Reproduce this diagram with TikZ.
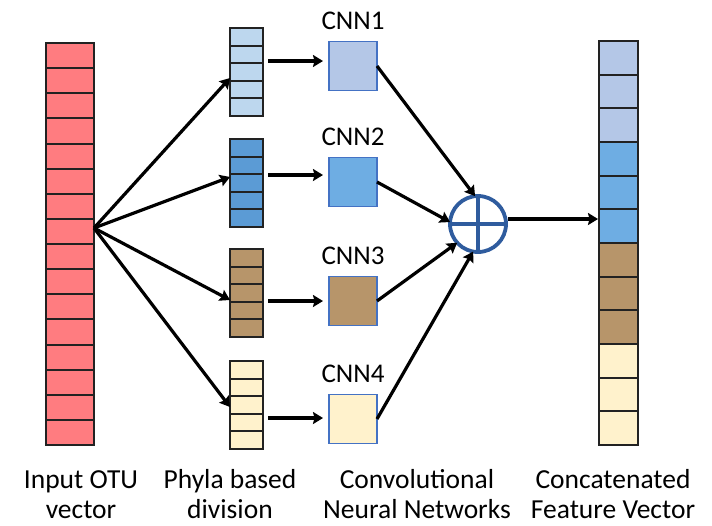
\documentclass[tikz,border=0pt]{standalone}
\usepackage{fontspec}
\setmainfont{Carlito}
\usetikzlibrary{arrows.meta,calc}

\definecolor{otured}{HTML}{FF7C80}
\definecolor{phyA}{HTML}{BDD7EE}
\definecolor{phyB}{HTML}{5B9BD5}
\definecolor{cnnA}{HTML}{B4C7E7}
\definecolor{cnnB}{HTML}{6EADE3}
\definecolor{brownish}{HTML}{B7956A}
\definecolor{cream}{HTML}{FFF2CC}
\definecolor{boxblue}{HTML}{4472C4}
\definecolor{sumblue}{HTML}{2F5C9E}
\definecolor{cellline}{HTML}{222222}

\tikzset{
  cellcol/.style={draw=cellline, line width=2pt, minimum width=#1, inner sep=0pt, outer sep=0pt},
  cnnbox/.style={draw=boxblue, line width=1.8pt, minimum width=48pt, minimum height=49pt, inner sep=0pt, outer sep=0pt},
  arr/.style={line width=3.2pt, -{Stealth[length=10pt,width=12pt,inset=1.5pt]}},
  caption/.style={font=\fontsize{27.5}{30}\selectfont, align=center, inner sep=0pt, anchor=base},
  cnnlabel/.style={font=\fontsize{27}{30}\selectfont, inner sep=0pt, anchor=base},
}

% draws n-1 horizontal dividers inside a column node
\newcommand{\dividecol}[2]{%
  \foreach \k in {1,...,\numexpr#2-1\relax}{
    \draw[cellline, line width=2pt]
      ($(#1.north west)!\k/#2!(#1.south west)$) -- ($(#1.north east)!\k/#2!(#1.south east)$);
  }%
}

\begin{document}
\begin{tikzpicture}[x=1pt,y=-1pt]
  \useasboundingbox (0,0) rectangle (712,525);

  % input OTU vector
  \node[cellcol=48pt, minimum height=402pt, fill=otured] (inp) at (70,244) {};
  \dividecol{inp}{16}

  % phyla based division
  \node[cellcol=33pt, minimum height=88pt, fill=phyA] (p1) at (246.5,72) {};
  \node[cellcol=33pt, minimum height=88pt, fill=phyB] (p2) at (246.5,183) {};
  \node[cellcol=33pt, minimum height=88pt, fill=brownish] (p3) at (246.5,293) {};
  \node[cellcol=33pt, minimum height=88pt, fill=cream] (p4) at (246.5,405) {};
  \foreach \n in {p1,p2,p3,p4}{\dividecol{\n}{5}}

  % convolutional networks
  \node[cnnbox, fill=cnnA] (c1) at (353,66) {};
  \node[cnnbox, fill=cnnB] (c2) at (353,182) {};
  \node[cnnbox, fill=brownish] (c3) at (353,301) {};
  \node[cnnbox, fill=cream] (c4) at (353,419) {};
  \node[cnnlabel] (l1) at (353,29) {CNN1};
  \node[cnnlabel] (l2) at (353,145) {CNN2};
  \node[cnnlabel] (l3) at (353,264) {CNN3};
  \node[cnnlabel] (l4) at (353,382) {CNN4};

  % concatenation operator
  \node[circle, draw=sumblue, line width=3.8pt, minimum size=56pt, inner sep=0pt, outer sep=0pt] (sum) at (478,224) {};
  \draw[sumblue, line width=3.8pt] (sum.north) -- (sum.south) (sum.west) -- (sum.east);

  % concatenated feature vector
  \node[cellcol=39pt, minimum height=404pt, fill=cream] (cv) at (618.5,243) {};
  \fill[cnnA] (cv.north west) rectangle ($(cv.north east)!0.25!(cv.south east)$);
  \fill[cnnB] ($(cv.north west)!0.25!(cv.south west)$) rectangle ($(cv.north east)!0.5!(cv.south east)$);
  \fill[brownish] ($(cv.north west)!0.5!(cv.south west)$) rectangle ($(cv.north east)!0.75!(cv.south east)$);
  \draw[cellline, line width=2pt] (cv.north west) rectangle (cv.south east);
  \dividecol{cv}{12}

  % input splits into phyla groups
  \coordinate (src) at ($(inp.east)+(0,-16)$);
  \draw[arr] (src) -- ([yshift=-6pt]p1.west);
  \draw[arr] (src) -- ([yshift=6pt]p2.west);
  \draw[arr] (src) -- ([yshift=-7pt]p3.west);
  \draw[arr] (src) -- ([yshift=-2pt]p4.west);

  % each group feeds its network
  \draw[arr] ([xshift=5pt]c1.west -| p1.east) ++(0,-5) -- ([xshift=-6pt,yshift=5pt]c1.west);
  \draw[arr] ([xshift=5pt]c2.west -| p2.east) ++(0,-7) -- ([xshift=-6pt,yshift=7pt]c2.west);
  \draw[arr] ([xshift=5pt]c3.west -| p3.east) -- ([xshift=-6pt]c3.west);
  \draw[arr] ([xshift=5pt]c4.west -| p4.east) ++(0,-1) -- ([xshift=-6pt,yshift=1pt]c4.west);

  % networks merge
  \draw[arr] (c1.east) -- (sum.96);
  \draw[arr] (c2.east) -- (sum.176);
  \draw[arr] (c3.east) -- (sum.222);
  \draw[arr] (c4.east) -- (sum.260);

  % merged output to feature vector
  \draw[arr] ([xshift=2pt,yshift=5pt]sum.east) -- ([xshift=-1pt,yshift=5pt]sum.east -| cv.west);

  % captions (base anchor sits on the last line)
  \node[caption] (t1) at (81,518) {Input OTU\\vector};
  \node[caption] (t2) at (230,518) {Phyla based\\division};
  \node[caption] (t3) at (417,518) {Convolutional\\Neural Networks};
  \node[caption] (t4) at (613,518) {Concatenated\\Feature Vector};
\end{tikzpicture}
\end{document}
